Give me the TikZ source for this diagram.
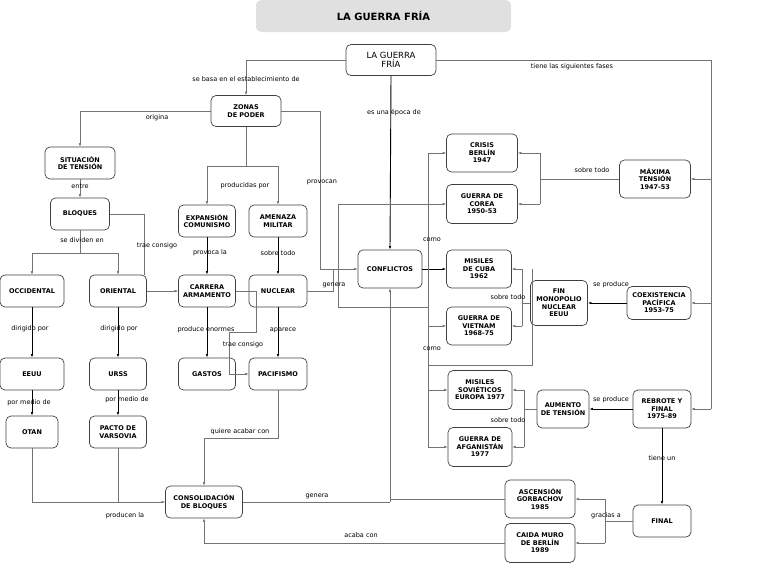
\documentclass[tikz,border=0pt]{standalone}
\usepackage{fontspec}
\setmainfont{DejaVu Sans}
\usetikzlibrary{arrows.meta}
\begin{document}
\begin{tikzpicture}[x=1pt,y=-1pt,
  box/.style={draw=black!75,rounded corners=5pt,line width=0.7pt,align=center,font=\fontsize{6.5}{7.6}\selectfont\bfseries,inner sep=1pt},
  lab/.style={font=\fontsize{6.5}{7.6}\selectfont,fill=none,inner sep=0.5pt},
  ln/.style={draw=black!55,line width=0.5pt},
  ar/.style={draw=black!55,line width=0.5pt,-{Latex[length=3.5pt,width=2.5pt]}},
  dar/.style={draw=black,line width=0.9pt,-{Latex[length=3.5pt,width=2.5pt]}}]
\useasboundingbox (0,0) rectangle (768,576);
\node[fill=black!12,rounded corners=5pt,minimum width=255,minimum height=32,font=\fontsize{10}{12}\selectfont\bfseries] (title) at (383.5,16) {LA GUERRA FRÍA};
\newcommand{\bx}[6]{\node[box,minimum width=#4,minimum height=#5] (#1) at (#2,#3) {#6};}
\node[box,minimum width=90,minimum height=31,font=\fontsize{8.5}{9.5}\selectfont] (lgf) at (391,60) {LA GUERRA\\FRÍA};
\bx{zon}{246}{111}{70}{31}{ZONAS\\DE PODER}
\bx{sit}{80}{163}{70}{32}{SITUACIÓN\\DE TENSIÓN}
\bx{blo}{80}{214}{59}{32}{BLOQUES}
\bx{occ}{32}{291}{64}{32}{OCCIDENTAL}
\bx{ori}{118}{291}{57}{32}{ORIENTAL}
\bx{exp}{207}{221}{57}{32}{EXPANSIÓN\\COMUNISMO}
\bx{ame}{278}{221}{58}{32}{AMENAZA\\MILITAR}
\bx{car}{207}{291}{57}{32}{CARRERA\\ARMAMENTO}
\bx{nuc}{278}{291}{58}{32}{NUCLEAR}
\bx{eeuu}{32}{374}{64}{32}{EEUU}
\bx{urss}{118}{374}{57}{32}{URSS}
\bx{gas}{207}{374}{57}{32}{GASTOS}
\bx{pac}{278}{374}{58}{32}{PACIFISMO}
\bx{otan}{32}{432}{52}{32}{OTAN}
\bx{var}{118}{432}{57}{32}{PACTO DE\\VARSOVIA}
\bx{con}{204}{502}{77}{32}{CONSOLIDACIÓN\\DE BLOQUES}
\bx{cfl}{390}{269}{64}{38}{CONFLICTOS}
\bx{ber}{482}{153}{71}{38}{CRISIS\\BERLÍN\\1947}
\bx{cor}{482}{204}{71}{39}{GUERRA DE\\COREA\\1950-53}
\bx{cub}{479}{269}{65}{38}{MISILES\\DE CUBA\\1962}
\bx{vie}{479}{326}{65}{38}{GUERRA DE\\VIETNAM\\1968-75}
\bx{max}{655}{179}{71}{38}{MÁXIMA\\TENSIÓN\\1947-53}
\bx{fin}{559}{303}{57}{45}{FIN\\MONOPOLIO\\NUCLEAR\\EEUU}
\bx{coe}{659}{303}{64}{33}{COEXISTENCIA\\PACÍFICA\\1953-75}
\bx{sov}{480}{390}{64}{39}{MISILES\\SOVIÉTICOS\\EUROPA 1977}
\bx{afg}{480}{447}{64}{39}{GUERRA DE\\AFGANISTÁN\\1977}
\bx{aum}{563}{409}{52}{38}{AUMENTO\\DE TENSIÓN}
\bx{reb}{662}{409}{58}{38}{REBROTE Y\\FINAL\\1975-89}
\bx{gor}{540}{499}{70}{38}{ASCENSIÓN\\GORBACHOV\\1985}
\bx{mur}{540}{543}{70}{39}{CAIDA MURO\\DE BERLÍN\\1989}
\bx{fnl}{662}{521}{58}{32}{FINAL}
% coordinates
\coordinate (r1) at (711,60);
\coordinate (r2) at (711,303);
\coordinate (r3) at (711,409);
\coordinate (rz) at (320,111);
\coordinate (rzb) at (320,269);
\coordinate (zs) at (246,166);
\coordinate (bs) at (80,253);
\coordinate (bt) at (144,214);
\coordinate (ng) at (333,291);
\coordinate (ng2) at (333,269);
\coordinate (cb1) at (256,291);
\coordinate (cb2) at (256,332);
\coordinate (cb3) at (229,332);
\coordinate (cb4) at (229,374);
\coordinate (rl) at (428,269);
\coordinate (rlt) at (428,153);
\coordinate (rlb) at (428,447);
\coordinate (mx) at (540,179);
\coordinate (fx) at (522,303);
\coordinate (ax) at (524,409);
\coordinate (gx) at (605,521);
\coordinate (ob) at (32,502);
\coordinate (pb) at (118,502);
\coordinate (pq) at (278,438);
\coordinate (pq2) at (204,438);
\coordinate (cx) at (390,502);
\coordinate (gl) at (390,499);
\coordinate (ml) at (204,543);
% connectors
\draw[ln] (lgf.west) -- (246,60);
\draw[ar] (246,60) -- (zon.north);
\draw[dar] (lgf.south) -- (cfl.north);
\draw[ln] (lgf.east) -- (r1) -- (r3);
\draw[ar] (711,179) -- (max.east);
\draw[ar] (r2) -- (coe.east);
\draw[ar] (r3) -- (reb.east);
\draw[ln] (zon.west) -- (80,111);
\draw[ar] (80,111) -- (sit.north);
\draw[ln] (zon.south) -- (zs);
\draw[ln] (207,166) -- (278,166);
\draw[ar] (207,166) -- (exp.north);
\draw[ar] (278,166) -- (ame.north);
\draw[ln] (zon.east) -- (rz) -- (rzb);
\draw[ar] (rzb) -- (cfl.west);
\draw[ar] (sit) -- (blo);
\draw[ln] (blo.south) -- (bs);
\draw[ln] (32,253) -- (118,253);
\draw[ar] (32,253) -- (occ.north);
\draw[ar] (118,253) -- (ori.north);
\draw[ln] (blo.east) -- (bt) -- (144,275);
\draw[ar] (ori.east) -- (car.west);
\draw[dar] (exp) -- (car);
\draw[dar] (ame) -- (nuc);
\draw[ln] (car.east) -- (cb1) -- (cb2) -- (cb3) -- (cb4);
\draw[ar] (cb4) -- (pac.west);
\draw[ln] (nuc.east) -- (ng) -- (ng2);
\draw[dar] (car) -- (gas);
\draw[dar] (nuc) -- (pac);
\draw[dar] (occ) -- (eeuu);
\draw[dar] (ori) -- (urss);
\draw[dar] (eeuu) -- (otan);
\draw[dar] (urss) -- (var);
\draw[ln] (otan.south) -- (ob) -- (pb);
\draw[ln] (var.south) -- (pb);
\draw[ar] (pb) -- (con.west);
\draw[ln] (pac.south) -- (pq) -- (pq2);
\draw[ar] (pq2) -- (con.north);
\draw[ln] (con.east) -- (cx);
\draw[ar] (cx) -- (cfl.south);
\draw[ln] (gor.west) -- (gl);
\draw[ln] (mur.west) -- (ml);
\draw[ar] (ml) -- (con.south);
\draw[dar] (cfl.east) -- (cub.west);
\draw[ln] (rlt) -- (rlb);
\draw[ar] (rlt) -- (ber.west);
\draw[ar] (428,204) -- (cor.west);
\draw[ar] (428,326) -- (vie.west);
\draw[ar] (428,390) -- (sov.west);
\draw[ar] (rlb) -- (afg.west);
\draw[ln] (cor.west) ++(-9,0) -- (338,204) -- (338,307) -- (428,307);
\draw[ln] (max.west) -- (mx);
\draw[ln] (540,153) -- (540,204);
\draw[ar] (540,153) -- (ber.east);
\draw[ar] (540,204) -- (cor.east);
\draw[dar] (coe.west) -- (fin.east);
\draw[ln] (fin.west) -- (fx);
\draw[ln] (522,269) -- (522,326);
\draw[ar] (522,269) -- (cub.east);
\draw[ar] (522,326) -- (vie.east);
\draw[ln] (532,269) -- (532,365) -- (428,365);
\draw[dar] (reb.west) -- (aum.east);
\draw[ln] (aum.west) -- (ax);
\draw[ln] (524,390) -- (524,447);
\draw[ar] (524,390) -- (sov.east);
\draw[ar] (524,447) -- (afg.east);
\draw[dar] (reb) -- (fnl);
\draw[ln] (fnl.west) -- (gx);
\draw[ln] (605,499) -- (605,543);
\draw[ar] (605,499) -- (gor.east);
\draw[ar] (605,543) -- (mur.east);
% labels
\node[lab] (l1) at (246,79) {se basa en el establecimiento de};
\node[lab] (l2) at (394,113) {es una época de};
\node[lab] (l3) at (572,67) {tiene las siguientes fases};
\node[lab] (l4) at (157,118) {origina};
\node[lab] (l5) at (245,186) {producidas por};
\node[lab] (l6) at (322,182) {provocan};
\node[lab] (l7) at (80,186) {entre};
\node[lab] (l8) at (82,240) {se dividen en};
\node[lab] (l9) at (157,246) {trae consigo};
\node[lab] (l10) at (210,253) {provoca la};
\node[lab] (l11) at (278,253) {sobre todo};
\node[lab] (l12) at (334,285) {genera};
\node[lab] (l13) at (206,330) {produce enormes};
\node[lab] (l14) at (283,330) {aparece};
\node[lab] (l15) at (243,345) {trae consigo};
\node[lab] (l16) at (30,329) {dirigido por};
\node[lab] (l17) at (119,329) {dirigido por};
\node[lab] (l18) at (29,403) {por medio de};
\node[lab] (l19) at (127,400) {por medio de};
\node[lab] (l20) at (240,432) {quiere acabar con};
\node[lab] (l21) at (125,516) {producen la};
\node[lab] (l22) at (317,496) {genera};
\node[lab] (l23) at (361,535) {acaba con};
\node[lab] (l24) at (432,240) {como};
\node[lab] (l25) at (432,349) {como};
\node[lab] (l26) at (592,170) {sobre todo};
\node[lab] (l27) at (611,285) {se produce};
\node[lab] (l28) at (508,297) {sobre todo};
\node[lab] (l29) at (611,400) {se produce};
\node[lab] (l30) at (508,420) {sobre todo};
\node[lab] (l31) at (662,458) {tiene un};
\node[lab] (l32) at (606,516) {gracias a};
\end{tikzpicture}
\end{document}
